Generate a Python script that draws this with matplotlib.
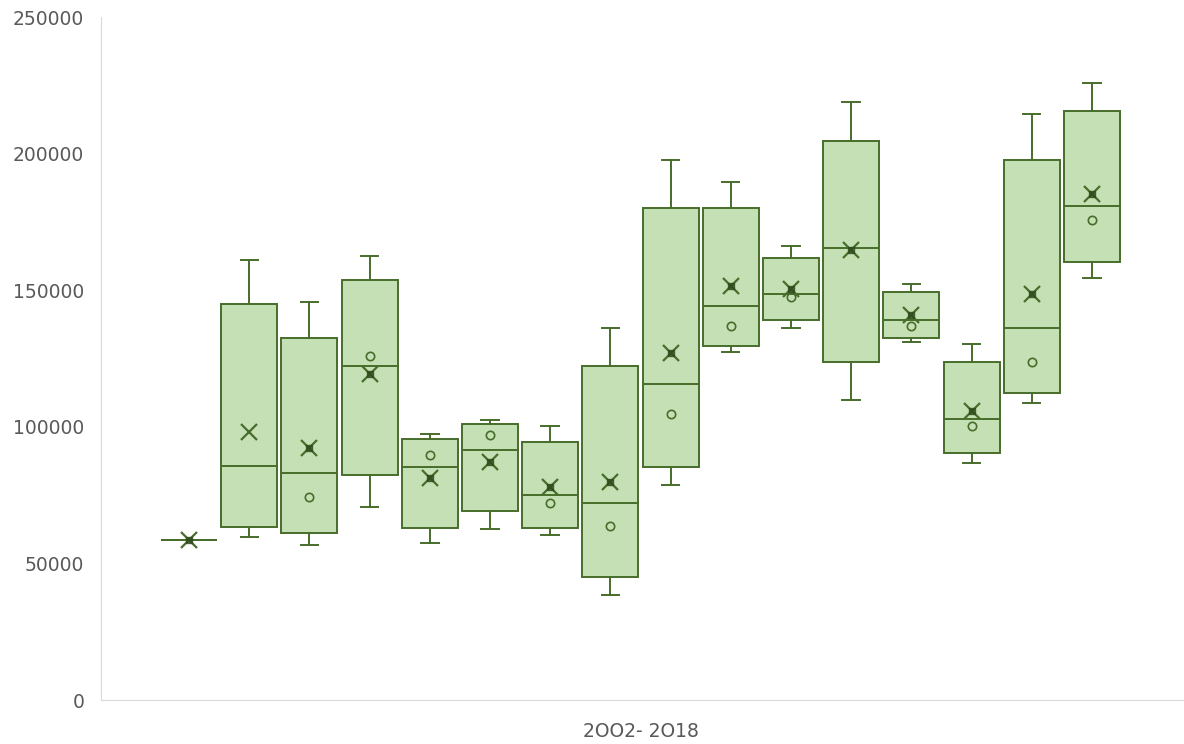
import numpy as np
import matplotlib.pyplot as plt

# Box-and-whisker values per series
whisker_low = [58565, 59773, 56735, 70534, 57357, 62481, 60284, 38323,
               78587, 127489, 136163, 109809, 131149, 86640, 108601, 154354]
q1 = [58565, 63213, 61017, 82247, 63067, 69070, 63067, 45132,
      85175, 129575, 138982, 123828, 132503, 90301, 112261, 160211]
median = [58565, 85762, 82979, 122364, 85175, 91617, 74926, 72108,
          115776, 144216, 148608, 165447, 139092, 102745, 136273, 180819]
q3 = [58565, 144948, 132503, 153733, 95424, 101134, 94546, 122254,
      180087, 179979, 161786, 204721, 149340, 123718, 197656, 215705]
whisker_high = [58565, 161053, 145680, 162627, 97474, 102598, 100292, 136053,
                197656, 189497, 166068, 218886, 152270, 130306, 214384, 225956]
mean = [58565, 97986, 92350, 119216, 81369, 87115, 77855, 79905,
        126903, 151650, 150332, 164714, 140922, 105896, 148608, 185101]
inner_point = [58565, None, 74194, 126024, 89568, 96887, 71998, 63799,
               104795, 136895, 147620, None, 136895, 100292, 123718, 175585]

category = '2OO2- 2O18'
yticks = [0, 50000, 100000, 150000, 200000, 250000]

face = '#C5E0B4'
edge = '#476D2B'
grey = '#595959'

stats = []
for i in range(len(q1)):
    stats.append(dict(whislo=whisker_low[i], q1=q1[i], med=median[i],
                      q3=q3[i], whishi=whisker_high[i]))

fig = plt.figure(figsize=(11.84, 7.44), dpi=100)
ax = fig.add_axes([0.0853, 0.0591, 0.9147, 0.918])

pos = np.arange(len(stats))
ax.bxp(stats, positions=pos, widths=0.93, showfliers=False, patch_artist=True,
       boxprops=dict(facecolor=face, edgecolor=edge, linewidth=1.4),
       medianprops=dict(color=edge, linewidth=1.4),
       whiskerprops=dict(color=edge, linewidth=1.4),
       capprops=dict(color=edge, linewidth=1.4),
       capwidths=0.29)

# inner points (small hollow circles)
for i, v in enumerate(inner_point):
    if v is not None and i != 0:
        ax.plot(pos[i], v, 'o', ms=6, mfc='none', mec=edge, mew=1.2, zorder=4)

# mean markers
ax.plot(pos, mean, 'x', ms=12, mew=1.6, color=edge, zorder=5)
for i, v in enumerate(mean):
    if i != 1:
        ax.plot(pos[i], v, 's', ms=5, color='#2F4A1C', alpha=0.8, zorder=6)

ax.set_xlim(-1.463, 16.53)
ax.set_ylim(0, 250000)
ax.set_yticks(yticks)
ax.set_yticklabels([str(t) for t in yticks])
ax.set_xticks([(len(stats) - 1) / 2])
ax.set_xticklabels([category])

for s in ['top', 'right']:
    ax.spines[s].set_visible(False)
ax.spines['left'].set_color('#D9D9D9')
ax.spines['bottom'].set_color('#D9D9D9')
ax.tick_params(axis='both', length=0, labelsize=13.5, colors=grey)
ax.tick_params(axis='y', pad=12)
ax.tick_params(axis='x', pad=16)

fig.savefig('out.png', dpi=100)
